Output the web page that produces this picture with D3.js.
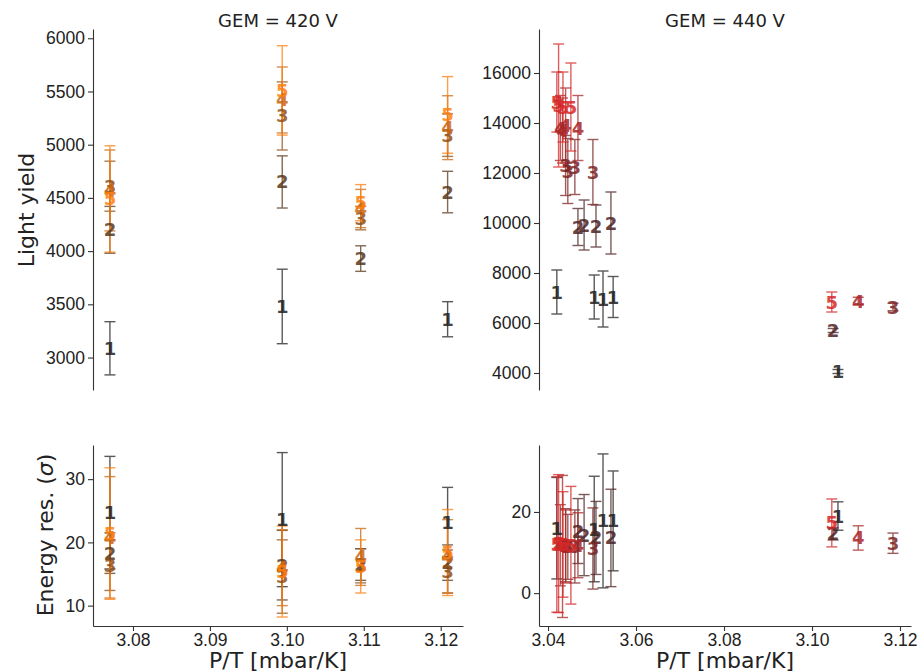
<!DOCTYPE html>
<html><head><meta charset="utf-8">
<script src="https://cdn.jsdelivr.net/npm/d3@7"></script>
<style>
body{margin:0;background:#fff;}
svg{display:block;font-family:"DejaVu Sans",sans-serif;}
.tick text{font-size:17.5px;fill:#222;}
.tick line,.domain{stroke:#333;stroke-width:1.1;}
</style></head>
<body><svg id="c" width="920" height="672"></svg>
<script>
// ---------- DATA ----------
const layerNames = ["1","2","3","4","5"];
const panelTitles = ["GEM = 420 V","GEM = 440 V"];
const xLabel = "P/T [mbar/K]";
const yLabelTop = "Light yield";

// GEM = 420 V
const g420Layer = [1,1,1, 2,2,2,2, 3,3,3,3, 4,4,4,4, 5,5,5,5];
const g420PT    = [3.0770,3.0994,3.1209, 3.0770,3.0994,3.1096,3.1209, 3.0770,3.0994,3.1096,3.1209, 3.0770,3.0994,3.1096,3.1209, 3.0770,3.0994,3.1096,3.1209];
const g420LY    = [3087,3480,3360, 4200,4650,3930,4555, 4610,5270,4310,5090, 4570,5420,4400,5160, 4490,5510,4455,5280];
const g420LYErr = [250,350,165, 220,245,120,195, 235,320,110,200, 380,310,180,300, 500,420,170,360];
const g420Res   = [24.7,23.6,23.2, 18.3,16.4,16.5,16.8, 16.4,14.6,16.3,15.4, 20.8,16.0,17.7,17.8, 21.4,15.4,16.2,18.4];
const g420ResErr= [8.9,10.6,5.5, 3.2,5.5,2.5,2.8, 4.0,5.8,2.7,3.4, 9.6,6.0,4.5,5.8, 10.4,7.2,4.2,6.8];

// GEM = 440 V
const g440Layer = [1,1,1,1,1, 2,2,2,2,2, 3,3,3,3,3, 4,4,4,4,4, 5,5,5,5,5];
const g440PT    = [3.0420,3.0505,3.0525,3.0548,3.1059, 3.0468,3.0482,3.0509,3.0543,3.1048, 3.0440,3.0445,3.0461,3.0502,3.1184, 3.0428,3.0433,3.0440,3.0468,3.1105, 3.0420,3.0424,3.0434,3.0452,3.1045];
const g440LY    = [7240,7040,6960,7040,4060, 9840,9920,9880,10000,5700, 12300,12080,12240,12040,6640, 13800,13700,13900,13800,6880, 14840,14700,14640,14640,6840];
const g440LYErr = [880,880,1120,820,80, 740,1000,840,1240,80, 1200,1300,1100,1300,150, 1300,1300,1500,1300,150, 1200,2460,1400,1760,400];
const g440Res   = [16.0,15.8,17.8,17.8,19.0, 15.3,14.3,13.6,13.6,14.6, 11.8,11.4,11.5,11.0,12.3, 11.8,11.5,11.5,11.8,13.6, 12.0,12.2,12.0,11.8,17.3];
const g440ResErr= [12.5,13.0,16.5,12.3,3.5, 8.0,10.0,9.0,12.0,1.5, 9.0,8.0,9.0,10.0,2.5, 10.0,17.5,9.0,8.0,3.0, 16.7,17.0,13.0,14.5,5.9];

// tick values
const ticksXL = [3.08,3.09,3.10,3.11,3.12];
const ticksXR = [3.04,3.06,3.08,3.10,3.12];
const ticksYTL = [3000,3500,4000,4500,5000,5500,6000];
const ticksYTR = [4000,6000,8000,10000,12000,14000,16000];
const ticksYBL = [10,20,30];
const ticksYBR = [0,20];

// ---------- DRAW ----------
const svg = d3.select("#c");
const colL = i => d3.interpolateRgb("#222222","#ff7f0e")(i/4);
const colR = i => d3.interpolateRgb("#222222","#d62728")(i/4);

const xL = d3.scaleLinear().domain([3.0748,3.1229]).range([93,463]);
const xR = d3.scaleLinear().domain([3.03795,3.1225]).range([539,911]);
const yTL = d3.scaleLinear().domain([2695,6087]).range([390,29]);
const yTR = d3.scaleLinear().domain([3320,17760]).range([390,29]);
const yBL = d3.scaleLinear().domain([6.78,35.4]).range([626,445]);
const yBR = d3.scaleLinear().domain([-8.1,36.5]).range([626,445]);

function fmtPT(d){return d3.format(".2f")(d);}

function axes(x,y,yt,xt,showX){
  svg.append("g").attr("transform",`translate(${x.range()[0]},0)`)
    .call(d3.axisLeft(y).tickValues(yt).tickSize(5).tickSizeOuter(0).tickPadding(3).tickFormat(d3.format("d")));
  if(showX){
    svg.append("g").attr("transform",`translate(0,${y.range()[0]})`)
      .call(d3.axisBottom(x).tickValues(xt).tickSize(5).tickSizeOuter(0).tickPadding(3).tickFormat(fmtPT));
  }
}
axes(xL,yTL,ticksYTL,ticksXL,false);
axes(xR,yTR,ticksYTR,ticksXR,false);
axes(xL,yBL,ticksYBL,ticksXL,true);
axes(xR,yBR,ticksYBR,ticksXR,true);

function plot(x,y,layer,pt,val,err,col){
  const g = svg.append("g");
  const idx = d3.range(layer.length).sort((a,b)=>layer[a]-layer[b]);
  idx.forEach(i=>{
    const c = col(layer[i]-1);
    const px = x(pt[i]), yt = y(val[i]+err[i]), yb = y(val[i]-err[i]);
    const eg = g.append("g").attr("stroke",c).attr("stroke-width",1.4).attr("opacity",0.75);
    eg.append("line").attr("x1",px).attr("x2",px).attr("y1",yt).attr("y2",yb);
    eg.append("line").attr("x1",px-5.5).attr("x2",px+5.5).attr("y1",yt).attr("y2",yt);
    eg.append("line").attr("x1",px-5.5).attr("x2",px+5.5).attr("y1",yb).attr("y2",yb);
  });
  idx.forEach(i=>{
    g.append("text").attr("x",x(pt[i])).attr("y",y(val[i]))
      .attr("text-anchor","middle").attr("dominant-baseline","central")
      .attr("font-size",18).attr("font-weight","bold").attr("fill",col(layer[i]-1)).attr("opacity",0.85)
      .text(layerNames[layer[i]-1]);
  });
}
plot(xL,yTL,g420Layer,g420PT,g420LY,g420LYErr,colL);
plot(xR,yTR,g440Layer,g440PT,g440LY,g440LYErr,colR);
plot(xL,yBL,g420Layer,g420PT,g420Res,g420ResErr,colL);
plot(xR,yBR,g440Layer,g440PT,g440Res,g440ResErr,colR);

// titles and labels
svg.append("text").attr("x",278).attr("y",20).attr("text-anchor","middle").attr("dominant-baseline","central")
  .attr("font-size",18).attr("fill","#222").text(panelTitles[0]);
svg.append("text").attr("x",725).attr("y",20).attr("text-anchor","middle").attr("dominant-baseline","central")
  .attr("font-size",18).attr("fill","#222").text(panelTitles[1]);
svg.append("text").attr("x",278).attr("y",660).attr("text-anchor","middle").attr("dominant-baseline","central")
  .attr("font-size",22).attr("fill","#222").text(xLabel);
svg.append("text").attr("x",725).attr("y",660).attr("text-anchor","middle").attr("dominant-baseline","central")
  .attr("font-size",22).attr("fill","#222").text(xLabel);
svg.append("text").attr("transform","translate(26,210) rotate(-90)").attr("text-anchor","middle").attr("dominant-baseline","central")
  .attr("font-size",22).attr("fill","#222").text(yLabelTop);
const el = svg.append("text").attr("transform","translate(45,535) rotate(-90)").attr("text-anchor","middle").attr("dominant-baseline","central")
  .attr("font-size",22).attr("fill","#222");
el.append("tspan").text("Energy res. (");
el.append("tspan").attr("font-style","italic").text("σ");
el.append("tspan").text(")");
</script></body></html>
